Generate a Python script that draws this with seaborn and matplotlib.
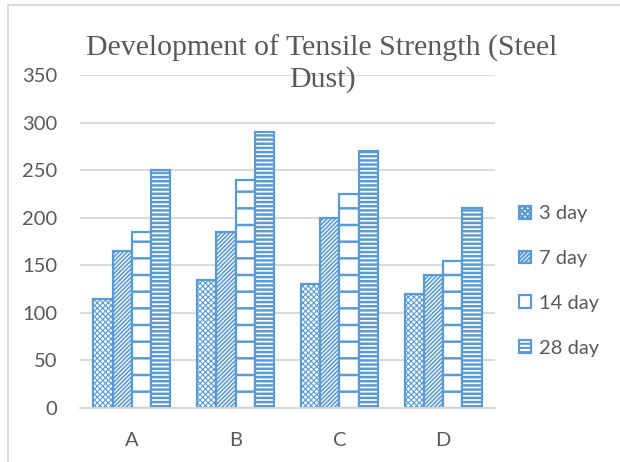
import matplotlib
matplotlib.use("Agg")
import matplotlib.pyplot as plt
from matplotlib.patches import Patch
from matplotlib.lines import Line2D
import pandas as pd
import seaborn as sns

categories = ["A", "B", "C", "D"]
ages = ["3 day", "7 day", "14 day", "28 day"]
day3 = [115, 135, 130, 120]
day7 = [165, 185, 200, 140]
day14 = [185, 240, 225, 155]
day28 = [250, 290, 270, 210]
yticks = [0, 50, 100, 150, 200, 250, 300, 350]

BLUE = "#5B9BD5"
GRID = "#D9D9D9"
TEXT = "#595959"
hatches = ["xxxxxx", "////////", "-", "----"]
hatch_widths = [0.8, 1.2, 1.8, 1.8]

rows = []
for age, vals in zip(ages, [day3, day7, day14, day28]):
    for cat, v in zip(categories, vals):
        rows.append({"category": cat, "age": age, "strength": v})
frame = pd.DataFrame(rows)

sns.set_theme(style="white")
plt.rcParams["font.family"] = ["Lato", "DejaVu Sans"]
plt.rcParams["hatch.linewidth"] = 1.5
plt.rcParams["hatch.color"] = BLUE

fig = plt.figure(figsize=(6.2, 4.62), dpi=100)
ax = fig.add_axes([80 / 620, 1 - 408 / 462, 415 / 620, 333 / 462])

sns.barplot(
    data=frame, x="category", y="strength", hue="age",
    order=categories, hue_order=ages, width=0.74,
    color="white", ax=ax, legend=False,
)
for container, hatch, hw in zip(ax.containers, hatches, hatch_widths):
    for bar in container:
        bar.set_facecolor("white")
        bar.set_edgecolor(BLUE)
        bar.set_linewidth(1.6)
        bar.set_hatch(hatch)
        if hasattr(bar, "set_hatch_linewidth"):
            bar.set_hatch_linewidth(hw)

ax.set_ylim(0, 350)
ax.set_yticks(yticks)
ax.set_xlim(-0.5, 3.5)
ax.yaxis.grid(True, color=GRID, linewidth=1.3)
ax.set_axisbelow(True)
for side in ["top", "right", "left"]:
    ax.spines[side].set_visible(False)
ax.spines["bottom"].set_color(GRID)
ax.spines["bottom"].set_linewidth(1.3)
ax.set_xlabel("")
ax.set_ylabel("")
ax.tick_params(axis="both", length=0, labelsize=14.5, colors=TEXT)
ax.tick_params(axis="x", pad=17.5)
ax.tick_params(axis="y", pad=16.5)

handles = []
for h, a, hw in zip(hatches, ages, hatch_widths):
    p = Patch(facecolor="white", edgecolor=BLUE, hatch=h, linewidth=1.6, label=a)
    if hasattr(p, "set_hatch_linewidth"):
        p.set_hatch_linewidth(hw)
    handles.append(p)
fig.legend(handles=handles, loc="center left", bbox_to_anchor=(501 / 620, 1 - 281 / 462),
           frameon=False, fontsize=14.5, labelcolor=TEXT, handlelength=0.6,
           handleheight=0.6, handletextpad=0.4, labelspacing=1.38)

fig.text(322 / 620, 1 - 64 / 462, "Development of Tensile Strength (Steel\nDust)",
         ha="center", va="center", fontsize=21.5, color=TEXT,
         family=["Liberation Serif", "DejaVu Serif"], linespacing=1.2)

fig.add_artist(Line2D([8 / 620, 8 / 620], [0, 1 - 5 / 462], transform=fig.transFigure,
                      color=GRID, linewidth=1.3))
fig.add_artist(Line2D([8 / 620, 1], [1 - 5 / 462, 1 - 5 / 462], transform=fig.transFigure,
                      color=GRID, linewidth=1.3))

fig.savefig("out.png", dpi=100)
